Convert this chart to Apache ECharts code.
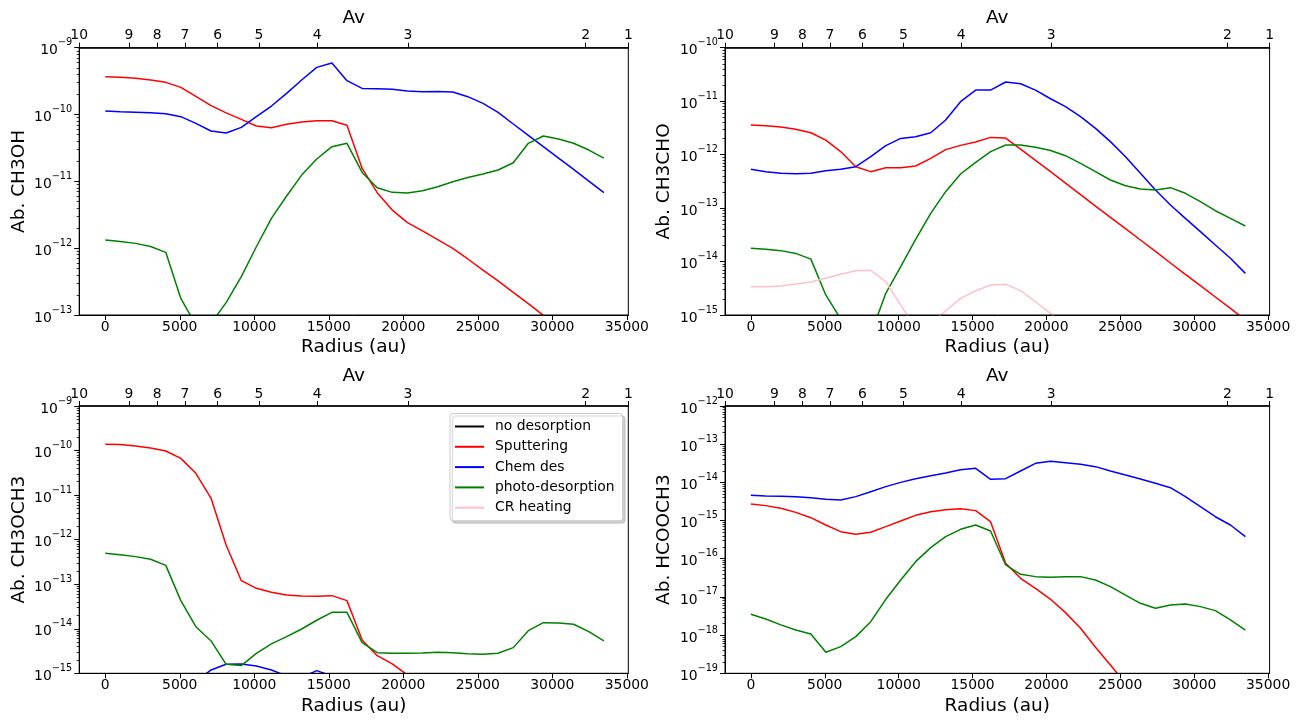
<!DOCTYPE html>
<html>
<head>
<meta charset="utf-8">
<script src="https://cdn.jsdelivr.net/npm/echarts@6/dist/echarts.min.js"></script>
<style>
html,body{margin:0;padding:0;background:#fff;}
#chart{width:1306px;height:722px;}
</style>
</head>
<body>
<div id="chart"></div>
<script>
// ---------- data ----------
const radius = [0, 1010, 2030, 3040, 4060, 5070, 6080, 7100, 8110, 9130, 10140, 11150, 12170, 13180, 14190, 15210, 16220,
  17240, 18250, 19260, 20280, 21290, 22310, 23320, 24330, 25350, 26360, 27380, 28390, 29400, 30420, 31430, 32450, 33460];

const xTicks = [0, 5000, 10000, 15000, 20000, 25000, 30000, 35000];
const avLabels = ['10', '9', '8', '7', '6', '5', '4', '3', '2', '1'];
const avPositions = [-1750, 1586, 3484, 5350, 7540, 10318, 14222, 20316, 32243, 35100];

const seriesNames = ['no desorption', 'Sputtering', 'Chem des', 'photo-desorption', 'CR heating'];
const seriesColors = ['#000000', '#ff0000', '#0000ff', '#008000', '#ffc0cb'];

// CH3OH
const ch3oh_sputtering = [3.68e-10, 3.60e-10, 3.48e-10, 3.28e-10, 3.03e-10, 2.55e-10, 1.87e-10, 1.36e-10, 1.06e-10, 8.47e-11,
  6.73e-11, 6.35e-11, 7.13e-11, 7.73e-11, 8.09e-11, 8.09e-11, 6.89e-11, 1.56e-11, 6.76e-12, 3.72e-12,
  2.41e-12, 1.81e-12, 1.34e-12, 9.93e-13, 6.89e-13, 4.71e-13, 3.23e-13, 2.18e-13, 1.48e-13, 9.9e-14,
  6.7e-14, 4.5e-14, 3.0e-14, 2.0e-14];
const ch3oh_chemdes = [1.13e-10, 1.10e-10, 1.08e-10, 1.06e-10, 1.03e-10, 9.29e-11, 7.38e-11, 5.66e-11, 5.28e-11, 6.43e-11,
  9.29e-11, 1.34e-10, 2.07e-10, 3.28e-10, 5.08e-10, 5.90e-10, 3.21e-10, 2.46e-10, 2.44e-10, 2.38e-10,
  2.25e-10, 2.20e-10, 2.22e-10, 2.17e-10, 1.85e-10, 1.47e-10, 1.08e-10, 7.21e-11, 4.88e-11, 3.30e-11,
  2.23e-11, 1.51e-11, 1.01e-11, 6.76e-12];
const ch3oh_photo = [1.32e-12, 1.26e-12, 1.18e-12, 1.06e-12, 8.66e-13, 1.77e-13, 7.08e-14, 7.5e-14, 1.53e-13, 3.75e-13,
  1.05e-12, 2.79e-12, 6.04e-12, 1.24e-11, 2.16e-11, 3.30e-11, 3.71e-11, 1.36e-11, 8.04e-12, 6.84e-12,
  6.68e-12, 7.24e-12, 8.32e-12, 9.89e-12, 1.14e-11, 1.29e-11, 1.48e-11, 1.90e-11, 3.71e-11, 4.77e-11,
  4.30e-11, 3.71e-11, 2.94e-11, 2.23e-11];

// CH3CHO
const ch3cho_sputtering = [3.58e-12, 3.48e-12, 3.28e-12, 2.97e-12, 2.57e-12, 1.87e-12, 1.14e-12, 5.94e-13, 4.80e-13, 5.70e-13,
  5.70e-13, 6.12e-13, 8.51e-13, 1.24e-12, 1.49e-12, 1.72e-12, 2.10e-12, 2.04e-12, 1.27e-12, 7.82e-13,
  4.80e-13, 2.94e-13, 1.78e-13, 1.09e-13, 6.71e-14, 4.12e-14, 2.53e-14, 1.55e-14, 9.4e-15, 5.77e-15,
  3.54e-15, 2.17e-15, 1.33e-15, 8.07e-16];
const ch3cho_chemdes = [5.30e-13, 4.80e-13, 4.47e-13, 4.40e-13, 4.47e-13, 5.00e-13, 5.30e-13, 5.94e-13, 9.14e-13, 1.47e-12,
  2.01e-12, 2.16e-12, 2.57e-12, 4.44e-12, 9.77e-12, 1.61e-11, 1.61e-11, 2.28e-11, 2.12e-11, 1.61e-11,
  1.11e-11, 7.88e-12, 5.12e-12, 3.10e-12, 1.75e-12, 9.14e-13, 4.47e-13, 2.18e-13, 1.14e-13, 6.43e-14,
  3.62e-14, 2.04e-14, 1.15e-14, 6.01e-15];
const ch3cho_photo = [1.77e-14, 1.69e-14, 1.60e-14, 1.42e-14, 1.11e-14, 2.37e-15, 8.41e-16, 1.92e-16, 4.35e-16, 2.54e-15,
  8.02e-15, 2.60e-14, 7.96e-14, 2.03e-13, 4.34e-13, 7.16e-13, 1.14e-12, 1.51e-12, 1.51e-12, 1.37e-12,
  1.19e-12, 9.55e-13, 6.87e-13, 4.80e-13, 3.35e-13, 2.62e-13, 2.28e-13, 2.18e-13, 2.41e-13, 1.89e-13,
  1.32e-13, 8.93e-14, 6.43e-14, 4.62e-14];
const ch3cho_crheating = [3.39e-15, 3.39e-15, 3.48e-15, 3.80e-15, 4.14e-15, 4.85e-15, 5.77e-15, 6.75e-15, 6.84e-15, 4.20e-15,
  1.54e-15, 5.47e-16, 6.98e-16, 1.19e-15, 2.05e-15, 2.85e-15, 3.64e-15, 3.75e-15, 2.85e-15, 1.77e-15,
  1.07e-15, 5.64e-16, null, null, null, null, null, null, null, null,
  null, null, null, null];

// CH3OCH3
const ch3och3_sputtering = [1.38e-10, 1.36e-10, 1.27e-10, 1.14e-10, 9.77e-11, 6.68e-11, 3.08e-11, 8.46e-12, 7.59e-13, 1.20e-13,
  8.09e-14, 6.58e-14, 5.73e-14, 5.44e-14, 5.35e-14, 5.53e-14, 4.28e-14, 5.60e-15, 2.49e-15, 1.62e-15,
  9.2e-16, 5.5e-16, null, null, null, null, null, null, null, null,
  null, null, null, null];
const ch3och3_chemdes = [null, null, null, null, null, null, 6.5e-16, 1.19e-15, 1.59e-15, 1.62e-15,
  1.46e-15, 1.19e-15, 8.7e-16, 8.1e-16, 1.15e-15, 8.7e-16, 4.2e-16, null, null, null,
  null, null, null, null, null, null, null, null, null, null,
  null, null, null, null];
const ch3och3_photo = [4.93e-13, 4.60e-13, 4.16e-13, 3.62e-13, 2.65e-13, 4.28e-14, 1.11e-14, 5.32e-15, 1.59e-15, 1.49e-15,
  2.81e-15, 4.56e-15, 6.65e-15, 9.88e-15, 1.55e-14, 2.34e-14, 2.34e-14, 4.88e-15, 2.91e-15, 2.81e-15,
  2.81e-15, 2.86e-15, 2.96e-15, 2.91e-15, 2.76e-15, 2.67e-15, 2.81e-15, 3.77e-15, 9.07e-15, 1.37e-14,
  1.35e-14, 1.26e-14, 8.61e-15, 5.32e-15];

// HCOOCH3
const hcooch3_sputtering = [2.72e-15, 2.46e-15, 2.09e-15, 1.64e-15, 1.19e-15, 7.65e-16, 5.12e-16, 4.36e-16, 4.92e-16, 6.92e-16,
  9.75e-16, 1.37e-15, 1.71e-15, 1.93e-15, 2.05e-15, 1.82e-15, 9.35e-16, 7.59e-17, 3.07e-17, 1.68e-17,
  8.67e-18, 3.88e-18, 1.51e-18, 4.80e-19, 1.65e-19, 5.47e-20, null, null, null, null,
  null, null, null, null];
const hcooch3_chemdes = [4.58e-15, 4.40e-15, 4.31e-15, 4.23e-15, 3.98e-15, 3.60e-15, 3.46e-15, 4.23e-15, 5.71e-15, 7.73e-15,
  1.00e-14, 1.25e-14, 1.50e-14, 1.76e-14, 2.15e-14, 2.33e-14, 1.20e-14, 1.25e-14, 1.99e-14, 3.15e-14,
  3.56e-14, 3.28e-14, 2.97e-14, 2.58e-14, 1.99e-14, 1.56e-14, 1.23e-14, 9.43e-15, 7.27e-15, 4.23e-15,
  2.31e-15, 1.26e-15, 7.65e-16, 3.79e-16];
const hcooch3_photo = [3.51e-18, 2.65e-18, 1.85e-18, 1.36e-18, 1.07e-18, 3.55e-19, 4.99e-19, 9.12e-19, 2.25e-18, 8.67e-18,
  2.78e-17, 8.39e-17, 1.95e-16, 3.79e-16, 5.90e-16, 7.65e-16, 5.33e-16, 6.87e-17, 3.91e-17, 3.40e-17,
  3.26e-17, 3.40e-17, 3.40e-17, 2.78e-17, 1.86e-17, 1.12e-17, 6.80e-18, 5.04e-18, 6.15e-18, 6.53e-18,
  5.57e-18, 4.38e-18, 2.49e-18, 1.36e-18];

// ---------- layout ----------
const FONT = 'DejaVu Sans';
const panels = [
  { name: 'Ab. CH3OH', grid: { left: 79.2, top: 47.7, width: 549.1, height: 267.3 }, yExp: [-13, -9],
    series: [[], ch3oh_sputtering, ch3oh_chemdes, ch3oh_photo, null] },
  { name: 'Ab. CH3CHO', grid: { left: 725, top: 47.7, width: 544.6, height: 267.3 }, yExp: [-15, -10],
    series: [[], ch3cho_sputtering, ch3cho_chemdes, ch3cho_photo, ch3cho_crheating] },
  { name: 'Ab. CH3OCH3', grid: { left: 79.2, top: 406, width: 549.1, height: 267.3 }, yExp: [-15, -9],
    series: [[], ch3och3_sputtering, ch3och3_chemdes, ch3och3_photo, null] },
  { name: 'Ab. HCOOCH3', grid: { left: 725, top: 406, width: 544.6, height: 267.3 }, yExp: [-19, -12],
    series: [[], hcooch3_sputtering, hcooch3_chemdes, hcooch3_photo, null] }
];

const axisLineStyle = { color: '#000', width: 1 };
const grids = [], xAxes = [], yAxes = [], series = [], graphics = [];

panels.forEach((p, pi) => {
  grids.push(Object.assign({ show: false }, p.grid));
  // axes frame (spines)
  graphics.push({
    type: 'rect', silent: true, z: 10,
    shape: { x: p.grid.left, y: p.grid.top, width: p.grid.width, height: p.grid.height },
    style: { fill: null, stroke: '#000', lineWidth: 1 }
  });
  const xMin = -1750, xMax = 35100;
  xAxes.push({
    type: 'value', gridIndex: pi, position: 'bottom', min: xMin, max: xMax,
    axisLine: { show: true, onZero: false, lineStyle: axisLineStyle },
    axisTick: { show: true, inside: false, length: 5, lineStyle: axisLineStyle, customValues: xTicks },
    axisLabel: { show: true, customValues: xTicks, margin: 5, color: '#000', fontFamily: FONT, fontSize: 13.9,
      formatter: v => String(Math.round(v)) },
    splitLine: { show: false },
    name: 'Radius (au)', nameLocation: 'middle', nameGap: 23,
    nameTextStyle: { color: '#000', fontFamily: FONT, fontSize: 18.5 }
  });
  xAxes.push({
    type: 'value', gridIndex: pi, position: 'top', min: xMin, max: xMax,
    axisLine: { show: true, onZero: false, lineStyle: { color: '#000', width: 1.5 } },
    axisTick: { show: true, inside: false, length: 5, lineStyle: axisLineStyle, customValues: avPositions },
    axisLabel: {
      show: true, customValues: avPositions, margin: 5, color: '#000', fontFamily: FONT, fontSize: 13.9,
      formatter: v => {
        let best = 0, d = Infinity;
        avPositions.forEach((a, i) => { if (Math.abs(a - v) < d) { d = Math.abs(a - v); best = i; } });
        return avLabels[best];
      }
    },
    splitLine: { show: false },
    name: 'Av', nameLocation: 'middle', nameGap: 20,
    nameTextStyle: { color: '#000', fontFamily: FONT, fontSize: 18.5 }
  });
  const yMin = Math.pow(10, p.yExp[0]), yMax = Math.pow(10, p.yExp[1]);
  const decades = [], minors = [];
  for (let e = p.yExp[0]; e <= p.yExp[1]; e++) {
    decades.push(Number('1e' + e));
    if (e < p.yExp[1]) for (let k = 2; k <= 9; k++) minors.push(Number(k + 'e' + e));
  }
  yAxes.push({
    type: 'log', logBase: 10, gridIndex: pi, position: 'left', min: yMin, max: yMax,
    axisLine: { show: true, onZero: false, lineStyle: axisLineStyle },
    axisTick: { show: true, inside: false, length: 5, lineStyle: axisLineStyle, customValues: decades },
    axisLabel: {
      show: true, customValues: decades, margin: 7, color: '#000',
      formatter: v => {
        const e = Math.round(Math.log10(v));
        return '{b|10}{e|\u2212' + Math.abs(e) + '}';
      },
      rich: {
        b: { fontFamily: FONT, fontSize: 13.9, color: '#000', lineHeight: 20, verticalAlign: 'bottom' },
        e: { fontFamily: FONT, fontSize: 9.7, color: '#000', lineHeight: 12, verticalAlign: 'top' }
      }
    },
    splitLine: { show: false },
    name: p.name, nameLocation: 'middle', nameGap: 51,
    nameTextStyle: { color: '#000', fontFamily: FONT, fontSize: 18.5 }
  });
  yAxes.push({
    type: 'log', logBase: 10, gridIndex: pi, position: 'left', min: yMin, max: yMax,
    axisLine: { show: false, onZero: false },
    axisTick: { show: true, inside: false, length: 2.5, lineStyle: { color: '#000', width: 0.8 }, customValues: minors },
    axisLabel: { show: false },
    splitLine: { show: false }
  });
  p.series.forEach((vals, si) => {
    if (vals === null) return;
    series.push({
      type: 'line', name: seriesNames[si], xAxisIndex: pi * 2, yAxisIndex: pi * 2,
      data: vals.map((v, i) => [radius[i], v]),
      showSymbol: false, symbol: 'none', clip: true, connectNulls: false,
      lineStyle: { color: seriesColors[si], width: 1.5 },
      itemStyle: { color: seriesColors[si] },
      emphasis: { disabled: true }, animation: false, z: 2
    });
  });
});

const chart = echarts.init(document.getElementById('chart'), null, { renderer: 'canvas' });
chart.setOption({
  backgroundColor: '#ffffff',
  animation: false,
  grid: grids,
  xAxis: xAxes,
  yAxis: yAxes,
  graphic: graphics,
  legend: {
    data: seriesNames,
    orient: 'vertical', left: 450, top: 413.5,
    icon: 'rect', itemWidth: 29, itemHeight: 2, itemGap: 4.3,
    padding: [5, 8, 5, 5],
    textStyle: { color: '#000', fontFamily: FONT, fontSize: 13.9, lineHeight: 16, padding: [0, 0, 0, 6] },
    backgroundColor: '#ffffff', borderColor: '#cccccc', borderWidth: 1, borderRadius: 3,
    shadowColor: 'rgba(0,0,0,0.18)', shadowOffsetX: 2.5, shadowOffsetY: 2.5, shadowBlur: 1,
    selectedMode: false
  },
  series: series
});
</script>
</body>
</html>
